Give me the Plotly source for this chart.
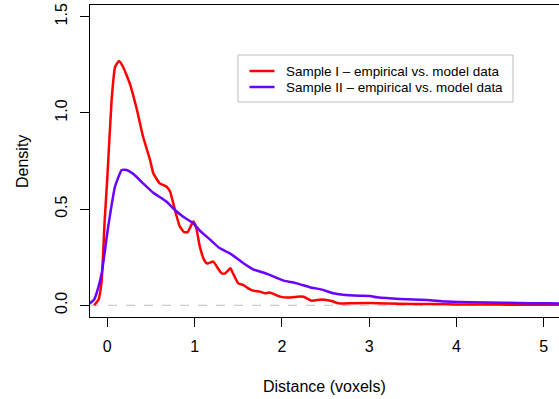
import plotly.graph_objects as go

# ---- data ----
s1_x = [-0.15, -0.10, -0.064, -0.03, 0.0, 0.05, 0.09, 0.134, 0.18, 0.26, 0.34, 0.41, 0.49, 0.527, 0.60,
        0.68, 0.72, 0.775, 0.83, 0.88, 0.92, 0.985, 1.015, 1.06, 1.11, 1.145, 1.215, 1.27, 1.31, 1.35,
        1.41, 1.44, 1.50, 1.56, 1.615, 1.67, 1.75, 1.81, 1.86, 1.98, 2.07, 2.21, 2.25, 2.34, 2.46,
        2.57, 2.65, 2.8, 3.0, 3.2, 3.5, 3.8, 4.0, 4.3, 4.6, 5.0, 5.2]
s1_y = [0.0, 0.03, 0.13, 0.44, 0.66, 1.07, 1.24, 1.27, 1.24, 1.15, 1.015, 0.876, 0.755, 0.686, 0.634,
        0.616, 0.59, 0.495, 0.41, 0.38, 0.38, 0.435, 0.41, 0.305, 0.235, 0.217, 0.227, 0.19, 0.166, 0.166,
        0.192, 0.166, 0.114, 0.105, 0.088, 0.076, 0.071, 0.062, 0.066, 0.045, 0.04, 0.045, 0.044, 0.024, 0.03,
        0.022, 0.01, 0.011, 0.012, 0.009, 0.007, 0.006, 0.004, 0.004, 0.003, 0.003, 0.003]

s2_x = [-0.2, -0.15, -0.10, -0.064, 0.011, 0.088, 0.165, 0.22, 0.30, 0.41, 0.527, 0.68, 0.775, 0.87,
        0.985, 1.06, 1.18, 1.29, 1.405, 1.56, 1.67, 1.83, 2.02, 2.17, 2.32, 2.47, 2.59, 2.70, 2.89,
        3.01, 3.09, 3.35, 3.66, 3.89, 4.35, 4.7, 5.03, 5.2]
s2_y = [0.01, 0.03, 0.097, 0.166, 0.41, 0.616, 0.703, 0.703, 0.682, 0.634, 0.585, 0.538, 0.495, 0.46,
        0.426, 0.388, 0.34, 0.296, 0.27, 0.218, 0.187, 0.163, 0.128, 0.114, 0.094, 0.08, 0.062, 0.055, 0.05,
        0.048, 0.042, 0.033, 0.028, 0.019, 0.014, 0.012, 0.01, 0.009]

series_names = ["Sample I – empirical vs. model data", "Sample II – empirical vs. model data"]
series_colors = ["#FF0000", "#6A00FF"]

x_ticks = [0, 1, 2, 3, 4, 5]
y_ticks = [0.0, 0.5, 1.0, 1.5]
y_tick_text = ["0.0", "0.5", "1.0", "1.5"]

FONT = "Liberation Sans, Arial, sans-serif"

# plot-area geometry in pixels (used only for the hand-drawn legend box)
W, H = 559, 399
ML, MR, MT, MB = 90, 0, 5, 82
PW, PH = W - ML - MR, H - MT - MB


def px(xpix):
    return (xpix - ML) / PW


def py(ypix):
    return (H - MB - ypix) / PH


fig = go.Figure()
for xs, ys, name, col in zip([s1_x, s2_x], [s1_y, s2_y], series_names, series_colors):
    fig.add_trace(go.Scatter(x=xs, y=ys, mode="lines", name=name, showlegend=False,
                             line=dict(color=col, width=2.5, shape="spline", smoothing=0.4)))

fig.add_hline(y=0, line=dict(color="#BEBEBE", width=1, dash="dash"), layer="below")

shapes = [dict(type="rect", xref="paper", yref="paper", x0=px(238), x1=px(513), y0=py(102), y1=py(55),
               line=dict(color="#BEBEBE", width=1), fillcolor="white", layer="above")]
annotations = [
    dict(text="Distance (voxels)", xref="paper", yref="paper", x=0.5, y=-0.224,
         xanchor="center", yanchor="middle", showarrow=False, font=dict(size=16)),
    dict(text="Density", xref="paper", yref="paper", x=-0.145, y=0.5, textangle=-90,
         xanchor="center", yanchor="middle", showarrow=False, font=dict(size=16)),
]
for i, (name, col) in enumerate(zip(series_names, series_colors)):
    rowy = 71 + 16 * i
    shapes.append(dict(type="line", xref="paper", yref="paper", x0=px(249.5), x1=px(274.5),
                       y0=py(rowy), y1=py(rowy), line=dict(color=col, width=2.5), layer="above"))
    annotations.append(dict(text=name, xref="paper", yref="paper", x=px(284), y=py(rowy + 0.5),
                            xanchor="left", yanchor="middle", showarrow=False,
                            font=dict(size=13.45, color="black")))

fig.update_layout(
    width=W, height=H,
    margin=dict(l=ML, r=MR, t=MT, b=MB),
    paper_bgcolor="white", plot_bgcolor="white",
    font=dict(family=FONT, size=16, color="black"),
    showlegend=False,
    shapes=list(fig.layout.shapes) + shapes,
    annotations=annotations,
    xaxis=dict(range=[-0.198, 5.174], tickvals=x_ticks, ticks="outside", ticklen=9,
               tickcolor="black", showline=True, linecolor="black", linewidth=1, mirror=True,
               showgrid=False, zeroline=False, ticklabelstandoff=6,
               tickfont=dict(size=16)),
    yaxis=dict(range=[-0.061, 1.561], tickvals=y_ticks, ticktext=y_tick_text, ticks="outside",
               ticklen=9, tickcolor="black", showline=True, linecolor="black", linewidth=1,
               showgrid=False, zeroline=False, tickangle=-90, ticklabelstandoff=7,
               tickfont=dict(size=16)),
)

fig.write_html("out.html")
